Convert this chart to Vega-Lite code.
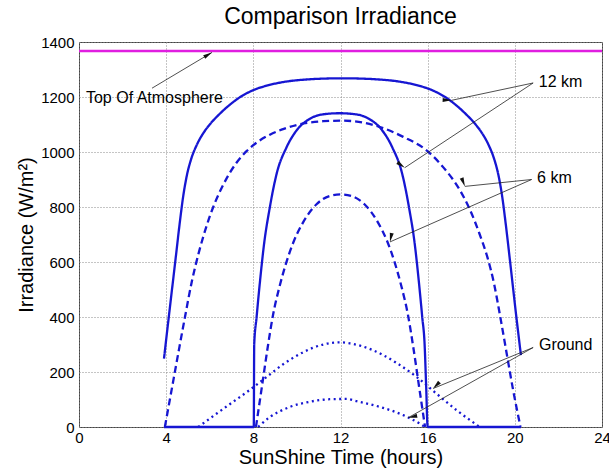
{
  "$schema": "https://vega.github.io/schema/vega-lite/v6.json",
  "width": 523,
  "height": 385,
  "autosize": "none",
  "padding": {"left": 79, "top": 42, "right": 7, "bottom": 43},
  "background": "white",
  "title": {"text": "Comparison Irradiance", "font": "Liberation Sans", "fontSize": 23, "fontWeight": "normal", "color": "#000", "anchor": "middle", "baseline": "alphabetic", "offset": 9, "dy": 21},
  "config": {
    "view": {"stroke": "#444", "strokeWidth": 1},
    "axis": {"labelFont": "Liberation Sans", "labelFontSize": 15, "labelColor": "#000", "titleFont": "Liberation Sans", "titleFontSize": 20, "titleFontWeight": "normal", "titleColor": "#000", "domain": false, "ticks": false, "grid": true, "gridColor": "#8a8a8a", "gridDash": [1, 2], "gridOpacity": 1, "labelFlush": false, "labelOverlap": false},
    "axisX": {"labelPadding": 3, "titlePadding": 2},
    "axisY": {"labelPadding": 5, "titlePadding": 4}
  },
  "datasets": {
    "curves": [
      {"c":"A","s":"12 km","h":3.90,"v":249},{"c":"A","s":"12 km","h":4.12,"v":400},{"c":"A","s":"12 km","h":4.43,"v":610},{"c":"A","s":"12 km","h":4.62,"v":740},{"c":"A","s":"12 km","h":4.78,"v":838},{"c":"A","s":"12 km","h":4.95,"v":915},{"c":"A","s":"12 km","h":5.15,"v":975},{"c":"A","s":"12 km","h":5.40,"v":1025},{"c":"A","s":"12 km","h":5.70,"v":1068},{"c":"A","s":"12 km","h":6.00,"v":1100},{"c":"A","s":"12 km","h":6.50,"v":1142},{"c":"A","s":"12 km","h":7.00,"v":1177},{"c":"A","s":"12 km","h":7.40,"v":1200},{"c":"A","s":"12 km","h":8.00,"v":1225},{"c":"A","s":"12 km","h":8.70,"v":1243},{"c":"A","s":"12 km","h":9.50,"v":1256},{"c":"A","s":"12 km","h":10.50,"v":1264},{"c":"A","s":"12 km","h":11.30,"v":1267},{"c":"A","s":"12 km","h":12.10,"v":1268},{"c":"A","s":"12 km","h":12.90,"v":1267},{"c":"A","s":"12 km","h":13.70,"v":1264},{"c":"A","s":"12 km","h":14.70,"v":1256},{"c":"A","s":"12 km","h":15.50,"v":1243},{"c":"A","s":"12 km","h":16.20,"v":1225},{"c":"A","s":"12 km","h":16.80,"v":1200},{"c":"A","s":"12 km","h":17.20,"v":1177},{"c":"A","s":"12 km","h":17.70,"v":1142},{"c":"A","s":"12 km","h":18.20,"v":1100},{"c":"A","s":"12 km","h":18.50,"v":1068},{"c":"A","s":"12 km","h":18.80,"v":1025},{"c":"A","s":"12 km","h":19.05,"v":975},{"c":"A","s":"12 km","h":19.25,"v":915},{"c":"A","s":"12 km","h":19.42,"v":838},{"c":"A","s":"12 km","h":19.58,"v":740},{"c":"A","s":"12 km","h":19.77,"v":610},{"c":"A","s":"12 km","h":20.07,"v":400},{"c":"A","s":"12 km","h":20.28,"v":261},
      {"c":"B","s":"12 km","h":3.90,"v":0},{"c":"B","s":"12 km","h":8.02,"v":0},{"c":"B","s":"12 km","h":8.04,"v":300},{"c":"B","s":"12 km","h":8.15,"v":400},{"c":"B","s":"12 km","h":8.30,"v":525},{"c":"B","s":"12 km","h":8.50,"v":670},{"c":"B","s":"12 km","h":8.76,"v":800},{"c":"B","s":"12 km","h":8.90,"v":860},{"c":"B","s":"12 km","h":9.07,"v":921},{"c":"B","s":"12 km","h":9.53,"v":1018},{"c":"B","s":"12 km","h":9.99,"v":1079},{"c":"B","s":"12 km","h":10.60,"v":1121},{"c":"B","s":"12 km","h":11.20,"v":1137},{"c":"B","s":"12 km","h":11.95,"v":1141},{"c":"B","s":"12 km","h":12.70,"v":1137},{"c":"B","s":"12 km","h":13.30,"v":1121},{"c":"B","s":"12 km","h":13.91,"v":1079},{"c":"B","s":"12 km","h":14.37,"v":1018},{"c":"B","s":"12 km","h":14.83,"v":921},{"c":"B","s":"12 km","h":15.00,"v":860},{"c":"B","s":"12 km","h":15.14,"v":800},{"c":"B","s":"12 km","h":15.40,"v":670},{"c":"B","s":"12 km","h":15.60,"v":525},{"c":"B","s":"12 km","h":15.75,"v":400},{"c":"B","s":"12 km","h":15.86,"v":300},{"c":"B","s":"12 km","h":15.93,"v":150},{"c":"B","s":"12 km","h":16.00,"v":0},{"c":"B","s":"12 km","h":20.28,"v":0},
      {"c":"C","s":"6 km","h":3.94,"v":0},{"c":"C","s":"6 km","h":4.25,"v":135},{"c":"C","s":"6 km","h":4.56,"v":270},{"c":"C","s":"6 km","h":4.87,"v":403},{"c":"C","s":"6 km","h":5.18,"v":530},{"c":"C","s":"6 km","h":5.50,"v":635},{"c":"C","s":"6 km","h":5.85,"v":730},{"c":"C","s":"6 km","h":6.16,"v":800},{"c":"C","s":"6 km","h":6.50,"v":862},{"c":"C","s":"6 km","h":6.78,"v":905},{"c":"C","s":"6 km","h":7.20,"v":958},{"c":"C","s":"6 km","h":7.69,"v":1003},{"c":"C","s":"6 km","h":8.20,"v":1037},{"c":"C","s":"6 km","h":8.76,"v":1063},{"c":"C","s":"6 km","h":9.40,"v":1084},{"c":"C","s":"6 km","h":9.99,"v":1098},{"c":"C","s":"6 km","h":10.60,"v":1107},{"c":"C","s":"6 km","h":11.21,"v":1112},{"c":"C","s":"6 km","h":12.10,"v":1114},{"c":"C","s":"6 km","h":13.04,"v":1107},{"c":"C","s":"6 km","h":13.81,"v":1091},{"c":"C","s":"6 km","h":14.88,"v":1055},{"c":"C","s":"6 km","h":15.95,"v":1006},{"c":"C","s":"6 km","h":16.71,"v":945},{"c":"C","s":"6 km","h":17.48,"v":861},{"c":"C","s":"6 km","h":17.94,"v":790},{"c":"C","s":"6 km","h":18.39,"v":700},{"c":"C","s":"6 km","h":18.75,"v":615},{"c":"C","s":"6 km","h":19.05,"v":520},{"c":"C","s":"6 km","h":19.31,"v":410},{"c":"C","s":"6 km","h":19.62,"v":270},{"c":"C","s":"6 km","h":19.92,"v":135},{"c":"C","s":"6 km","h":20.26,"v":0},
      {"c":"D","s":"6 km","h":8.12,"v":0},{"c":"D","s":"6 km","h":8.40,"v":150},{"c":"D","s":"6 km","h":8.66,"v":290},{"c":"D","s":"6 km","h":8.91,"v":410},{"c":"D","s":"6 km","h":9.20,"v":510},{"c":"D","s":"6 km","h":9.50,"v":595},{"c":"D","s":"6 km","h":9.83,"v":670},{"c":"D","s":"6 km","h":10.29,"v":745},{"c":"D","s":"6 km","h":10.90,"v":810},{"c":"D","s":"6 km","h":11.50,"v":840},{"c":"D","s":"6 km","h":12.00,"v":846},{"c":"D","s":"6 km","h":12.50,"v":840},{"c":"D","s":"6 km","h":13.10,"v":810},{"c":"D","s":"6 km","h":13.71,"v":745},{"c":"D","s":"6 km","h":14.17,"v":670},{"c":"D","s":"6 km","h":14.50,"v":595},{"c":"D","s":"6 km","h":14.80,"v":510},{"c":"D","s":"6 km","h":15.09,"v":410},{"c":"D","s":"6 km","h":15.34,"v":290},{"c":"D","s":"6 km","h":15.60,"v":150},{"c":"D","s":"6 km","h":15.88,"v":0},
      {"c":"E","s":"Ground","h":5.47,"v":0},{"c":"E","s":"Ground","h":6.32,"v":49},{"c":"E","s":"Ground","h":7.08,"v":92},{"c":"E","s":"Ground","h":7.84,"v":135},{"c":"E","s":"Ground","h":8.45,"v":172},{"c":"E","s":"Ground","h":9.37,"v":228},{"c":"E","s":"Ground","h":10.29,"v":272},{"c":"E","s":"Ground","h":11.21,"v":300},{"c":"E","s":"Ground","h":11.97,"v":308},{"c":"E","s":"Ground","h":12.43,"v":304},{"c":"E","s":"Ground","h":13.50,"v":279},{"c":"E","s":"Ground","h":14.57,"v":233},{"c":"E","s":"Ground","h":15.49,"v":182},{"c":"E","s":"Ground","h":16.41,"v":121},{"c":"E","s":"Ground","h":17.33,"v":61},{"c":"E","s":"Ground","h":18.39,"v":0},
      {"c":"F","s":"Ground","h":8.22,"v":0},{"c":"F","s":"Ground","h":8.76,"v":36},{"c":"F","s":"Ground","h":9.68,"v":73},{"c":"F","s":"Ground","h":10.60,"v":92},{"c":"F","s":"Ground","h":11.51,"v":101},{"c":"F","s":"Ground","h":12.28,"v":102},{"c":"F","s":"Ground","h":12.74,"v":94},{"c":"F","s":"Ground","h":13.81,"v":73},{"c":"F","s":"Ground","h":14.88,"v":43},{"c":"F","s":"Ground","h":15.64,"v":12},{"c":"F","s":"Ground","h":15.87,"v":0}
    ],
    "arrows": [
      {"id":"toa","h":6.10,"v":1362,"h2":3.35,"v2":1232},
      {"id":"k12a","h":17.10,"v":1188,"h2":20.84,"v2":1251},
      {"id":"k12b","h":14.95,"v":943,"h2":20.84,"v2":1251},
      {"id":"k6a","h":17.71,"v":875,"h2":20.77,"v2":900},
      {"id":"k6b","h":14.27,"v":673,"h2":20.77,"v2":900},
      {"id":"ga","h":16.25,"v":140,"h2":20.84,"v2":289},
      {"id":"gb","h":15.11,"v":34,"h2":20.84,"v2":289}
    ],
    "labels": [
      {"label":"Top Of Atmosphere","h":0.32,"v":1195},
      {"label":"12 km","h":21.10,"v":1255},
      {"label":"6 km","h":21.02,"v":907},
      {"label":"Ground","h":21.11,"v":297}
    ]
  },
  "encoding": {
    "x": {"field": "h", "type": "quantitative", "scale": {"domain": [0, 24], "nice": false, "zero": false}, "axis": {"values": [0, 4, 8, 12, 16, 20, 24], "title": "SunShine Time (hours)"}},
    "y": {"field": "v", "type": "quantitative", "scale": {"domain": [0, 1400], "nice": false}, "axis": {"values": [0, 200, 400, 600, 800, 1000, 1200, 1400], "format": "d", "title": "Irradiance (W/m²)"}}
  },
  "layer": [
    {
      "data": {"values": [{"h": 0, "h2": 24, "v": 1367}]},
      "mark": {"type": "rule", "color": "#e01ee0", "strokeWidth": 2.5},
      "encoding": {"x2": {"field": "h2"}}
    },
    {
      "data": {"name": "curves"},
      "mark": {"type": "line", "interpolate": "monotone", "strokeWidth": 2.3, "color": "#1616d2", "strokeCap": "butt"},
      "encoding": {
        "detail": {"field": "c", "type": "nominal"},
        "strokeDash": {"field": "s", "type": "nominal", "scale": {"domain": ["12 km", "6 km", "Ground"], "range": [[1, 0], [7, 4], [2, 3.5]]}, "legend": null}
      }
    },
    {
      "data": {"name": "arrows"},
      "mark": {"type": "rule", "color": "#222", "strokeWidth": 0.8},
      "encoding": {"x2": {"field": "h2"}, "y2": {"field": "v2"}}
    },
    {
      "data": {"name": "arrows"},
      "mark": {"type": "point", "filled": true, "shape": "M0,0L-0.4,1.8L0.4,1.8Z", "size": 100, "color": "#111", "opacity": 1},
      "encoding": {"angle": {"field": "id", "type": "nominal", "scale": {"domain": ["toa", "k12a", "k12b", "k6a", "k6b", "ga", "gb"], "range": [59, 258, 237, 264, 246, 248, 241]}, "legend": null}}
    },
    {
      "data": {"name": "labels"},
      "mark": {"type": "text", "align": "left", "baseline": "middle", "font": "Liberation Sans", "fontSize": 16, "color": "#000"},
      "encoding": {"text": {"field": "label"}}
    }
  ]
}
